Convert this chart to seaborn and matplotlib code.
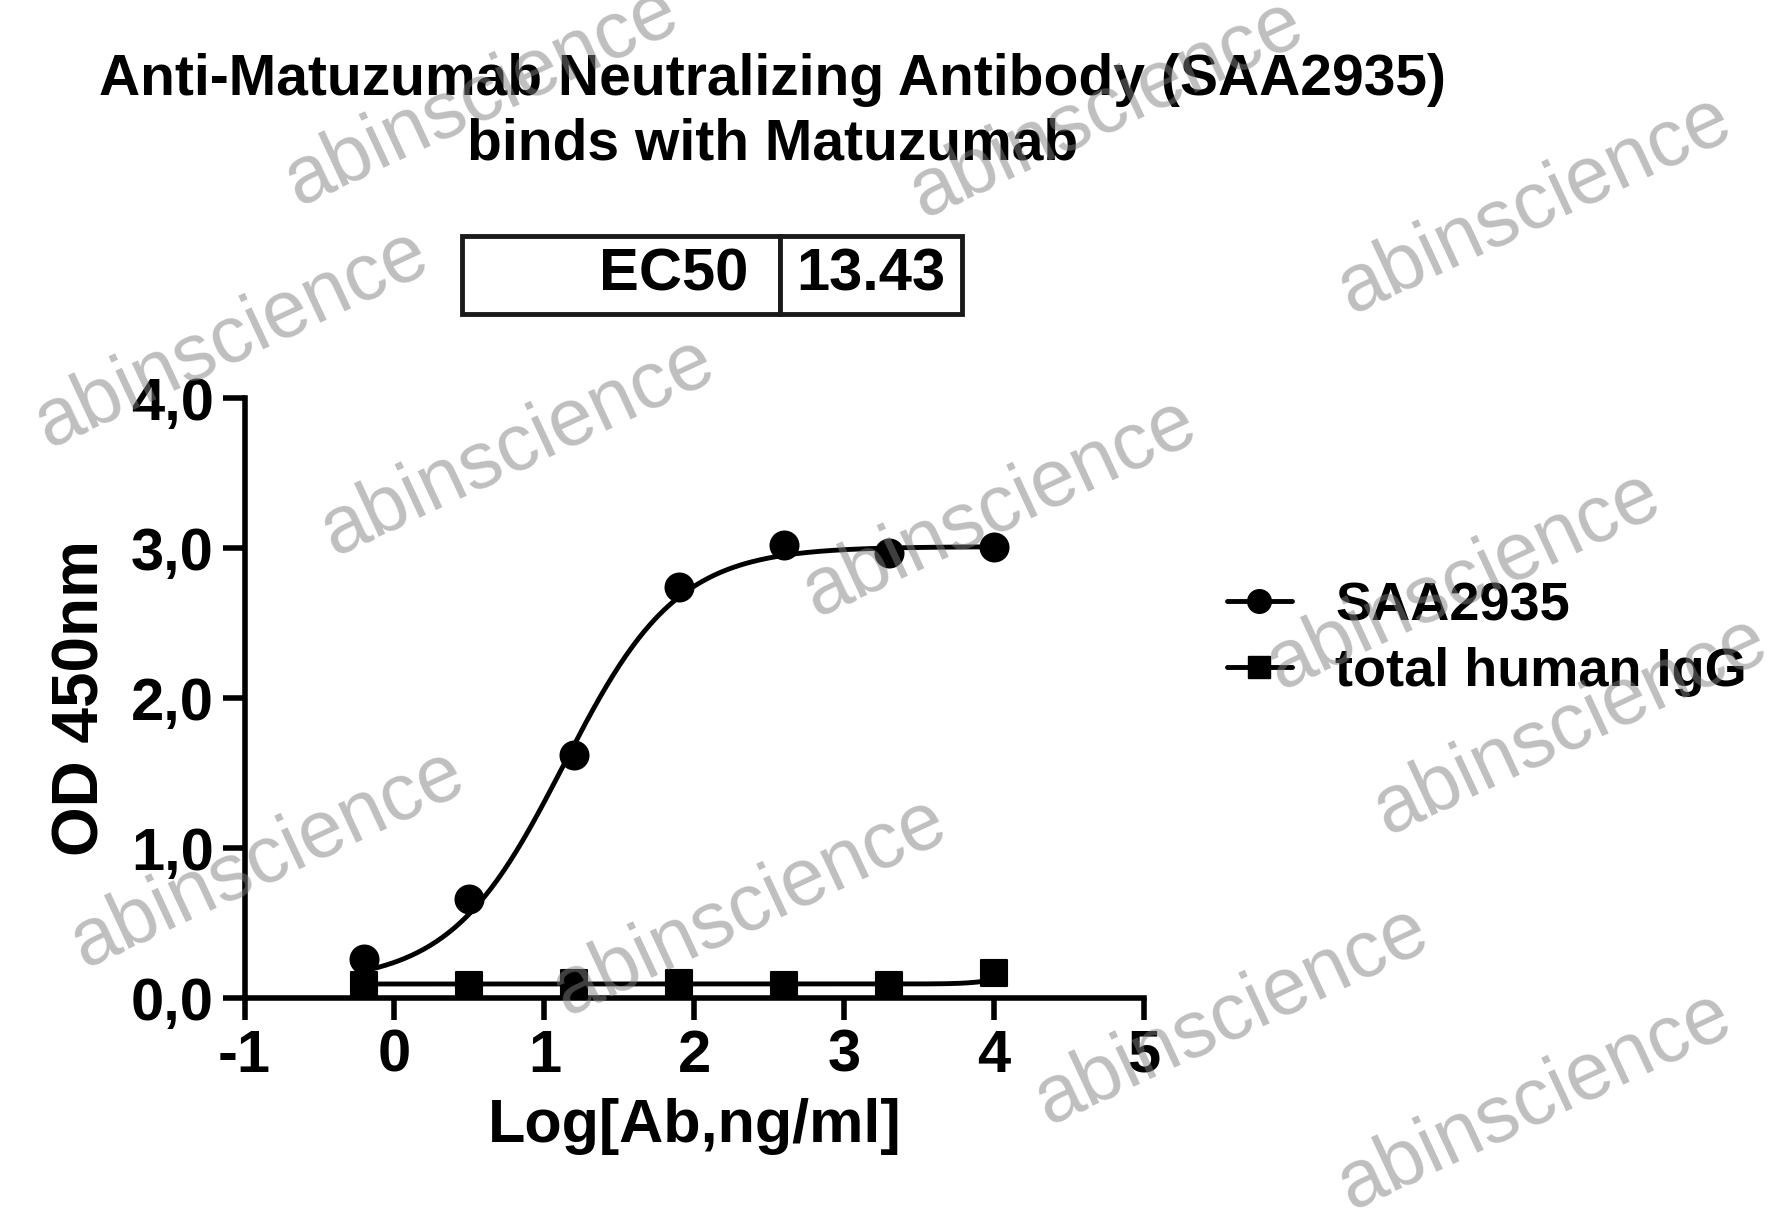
import numpy as np
import pandas as pd
import matplotlib
matplotlib.use("Agg")
import matplotlib.pyplot as plt
import seaborn as sns
from matplotlib.lines import Line2D

log_conc = [-0.2, 0.5, 1.2, 1.9, 2.6, 3.3, 4.0]
saa2935 = [0.26, 0.66, 1.62, 2.74, 3.02, 2.97, 3.01]
igg = [0.09, 0.09, 0.10, 0.10, 0.09, 0.09, 0.17]
# 4PL fit parameters (bottom, top, logEC50, hill)
fit_saa = (0.10, 3.01, np.log10(13.43), 1.15)
fit_igg = (0.095, 0.20, 4.1, 4.0)
ec50_text = "13.43"
x_ticks = [-1, 0, 1, 2, 3, 4, 5]
y_ticks = [0.0, 1.0, 2.0, 3.0, 4.0]

sns.set_theme(style="ticks")
plt.rcParams['font.family'] = ['Liberation Sans', 'DejaVu Sans']
plt.rcParams['font.weight'] = 'bold'
for k in ['text.color', 'axes.labelcolor', 'xtick.color', 'ytick.color', 'axes.edgecolor']:
    plt.rcParams[k] = 'black'

fig = plt.figure(figsize=(17.85, 12.10), dpi=100)
ax = fig.add_axes([0.137, 0.175, 0.504, 0.496])

def fourpl(x, p):
    b, t, c, h = p
    return b + (t - b) / (1 + 10 ** ((c - x) * h))

xs = np.linspace(-0.2, 4.0, 300)
ax.plot(xs, fourpl(xs, fit_saa), color='black', lw=3.5)
ax.plot(xs, fourpl(xs, fit_igg), color='black', lw=3.5)
df = pd.DataFrame({"x": log_conc, "saa": saa2935, "igg": igg})
sns.scatterplot(data=df, x="x", y="saa", ax=ax, marker='o', s=400, color='black', edgecolor='black', zorder=5)
sns.scatterplot(data=df, x="x", y="igg", ax=ax, marker='s', s=360, color='black', edgecolor='black', zorder=5)

ax.set_xlim(-1, 5)
ax.set_ylim(0, 4)
ax.set_xticks(x_ticks)
ax.set_xticklabels([str(v) for v in x_ticks])
ax.set_yticks(y_ticks)
ax.set_yticklabels([f"{v:.1f}".replace('.', ',') for v in y_ticks])
for s in ['top', 'right']:
    ax.spines[s].set_visible(False)
for s in ['left', 'bottom']:
    ax.spines[s].set_linewidth(4)
ax.tick_params(width=4, length=16, labelsize=43, pad=6)
for lab in ax.get_xticklabels() + ax.get_yticklabels():
    lab.set_fontweight('bold')
ax.set_xlabel("Log[Ab,ng/ml]", fontsize=44, fontweight='bold', labelpad=10)
ax.set_ylabel("OD 450nm", fontsize=46, fontweight='bold', labelpad=14)

fig.text(0.433, 0.907, "Anti-Matuzumab Neutralizing Antibody (SAA2935)\nbinds with Matuzumab",
         ha='center', va='center', fontsize=41, fontweight='bold', linespacing=1.25)

tab = ax.table(cellText=[["EC50", ec50_text]], colWidths=[0.42, 0.24], cellLoc='right',
               bbox=[0.242, 1.14, 0.555, 0.13])
tab.auto_set_font_size(False)
for (r, c), cell in tab.get_celld().items():
    cell.set_linewidth(3.5)
    cell.get_text().set_fontsize(43)
    cell.get_text().set_fontweight('bold')
    cell.set_text_props(ha='center' if c == 1 else 'right')

h = [Line2D([], [], color='black', lw=3.5, marker='o', markersize=17),
     Line2D([], [], color='black', lw=3.5, marker='s', markersize=16)]
fig.legend(h, ["SAA2935", "total human IgG"], loc='upper left', bbox_to_anchor=(0.66, 0.56),
           frameon=False, handlelength=1.2, labelspacing=0.3, handletextpad=0.8,
           prop={'weight': 'bold', 'size': 39})

wm = [(0.27, 0.92), (0.62, 0.91), (0.86, 0.83), (0.13, 0.72), (0.29, 0.63), (0.56, 0.58),
      (0.82, 0.52), (0.15, 0.29), (0.42, 0.25), (0.88, 0.40), (0.69, 0.16), (0.86, 0.09)]
for x, y in wm:
    fig.text(x, y, "abinscience", fontsize=58, color='gray', alpha=0.5, rotation=25,
             ha='center', va='center', fontweight='normal', zorder=10)

fig.savefig("out.png", dpi=100)
